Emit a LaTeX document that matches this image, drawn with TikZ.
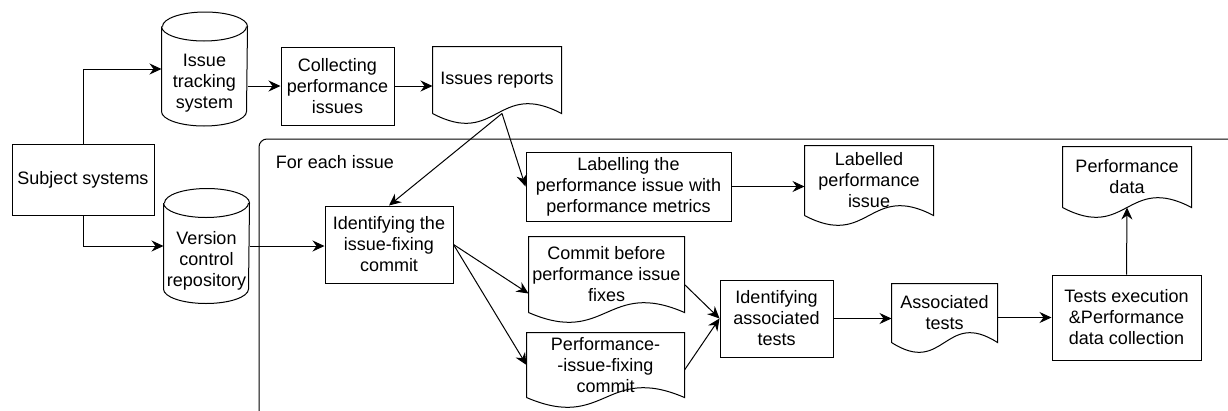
\documentclass[tikz,border=0pt]{standalone}
\usepackage{fontspec}
\setmainfont{Liberation Sans}
\usetikzlibrary{arrows.meta}

\tikzset{
  box/.style={draw, align=center, inner sep=0pt},
  doc/.style={align=center, inner sep=0pt},
  can/.style={inner sep=0pt},
  cantext/.style={yshift=-14.5pt, align=center},
}

\begin{document}
\begin{tikzpicture}[x=1pt,y=-1pt,line width=1pt,>={Stealth[length=12pt,width=11pt,inset=4pt]},
  every node/.style={font=\fontsize{18}{21}\selectfont}]
\clip (0,0) rectangle (1228,410);

% loop frame
\draw[rounded corners=8pt] (259,415) -- (259,139) -- (1235,139);
\node[anchor=west] (each) at (272,162) {For each issue};

\node[box,minimum width=142pt,minimum height=71pt] (subj) at (83,179.5) {Subject systems};
\node[can,minimum width=85pt,minimum height=113pt,label={[cantext]center:Issue\\tracking\\system}] (its) at (204.5,69) {};
\node[can,minimum width=85pt,minimum height=114pt,label={[cantext]center:Version\\control\\repository}] (vcs) at (206.5,246) {};
\node[box,minimum width=113pt,minimum height=78pt] (coll) at (337.5,86) {Collecting\\performance\\issues};
\node[doc,minimum width=128pt,minimum height=66pt] (reports) at (497,80) {Issues reports};
\node[box,minimum width=128pt,minimum height=77pt] (fixid) at (389,244.5) {Identifying the\\issue-fixing\\commit};
\node[box,minimum width=205pt,minimum height=69pt] (labelling) at (628.5,186.5) {Labelling the\\performance issue with\\performance metrics};
\node[doc,minimum width=128pt,minimum height=69pt] (labelled) at (869,180.5) {Labelled\\performance\\issue};
\node[doc,minimum width=128pt,minimum height=60pt] (perfdata) at (1127,177) {Performance\\data};
\node[doc,minimum width=155pt,minimum height=75pt] (before) at (606.5,274.5) {Commit before\\performance issue\\fixes};
\node[doc,minimum width=157pt,minimum height=64pt] (fixing) at (605.5,365) {Performance-\\-issue-fixing\\commit};
\node[box,minimum width=113pt,minimum height=77pt] (associd) at (776.5,318.5) {Identifying\\associated\\tests};
\node[doc,minimum width=105pt,minimum height=58pt] (assoc) at (944.5,313) {Associated\\tests};
\node[box,minimum width=149pt,minimum height=85pt] (exec) at (1126.5,317.5) {Tests execution\\\&Performance\\data collection};

% cylinders
\foreach \Can in {its,vcs}{
  \draw ([yshift=-14.5pt]\Can.north west) -- ([yshift=14.5pt]\Can.south west)
    arc[start angle=180,end angle=360,x radius=42.5pt,y radius=14.5pt]
    -- ([yshift=-14.5pt]\Can.north east)
    arc[start angle=0,end angle=180,x radius=42.5pt,y radius=14.5pt];
  \draw ([yshift=-14.5pt]\Can.north west) arc[start angle=180,end angle=360,x radius=42.5pt,y radius=14.5pt];
}
% documents
\foreach \Doc in {reports,labelled,perfdata,before,fixing,assoc}{
  \draw (\Doc.south west) -- (\Doc.north west) -- (\Doc.north east) -- (\Doc.south east)
    .. controls ([yshift=34pt]\Doc.south) and ([yshift=-34pt]\Doc.south) .. (\Doc.south west);
}

\draw[->] (subj.north) |- (its.west);
\draw[->] (subj.south) |- (vcs.west);
\draw[->] (coll.west -| its.east) -- (coll.west);
\draw[->] (coll.east) -- (coll.east -| reports.west);
\coordinate (rw) at ([xshift=5pt]reports.south);
\draw[->] (rw) -- (fixid.north);
\draw[->] (rw) -- (labelling.west);
\draw[->] (vcs.east) -- (vcs.east -| fixid.west);
\draw[->] (fixid.east) -- ([yshift=-19pt]before.west);
\draw[->] (fixid.east) -- (fixing.west);
\draw[->] ([yshift=-10pt]before.east) -- (associd.west);
\draw[->] ([yshift=-5pt]fixing.east) -- (associd.west);
\draw[->] (labelling.east) -- (labelling.east -| labelled.west);
\draw[->] (associd.east) -- (associd.east -| assoc.west);
\draw[->] (exec.west -| assoc.east) -- (exec.west);
\draw[->] (exec.north) -- (perfdata.south);

\end{tikzpicture}
\end{document}
